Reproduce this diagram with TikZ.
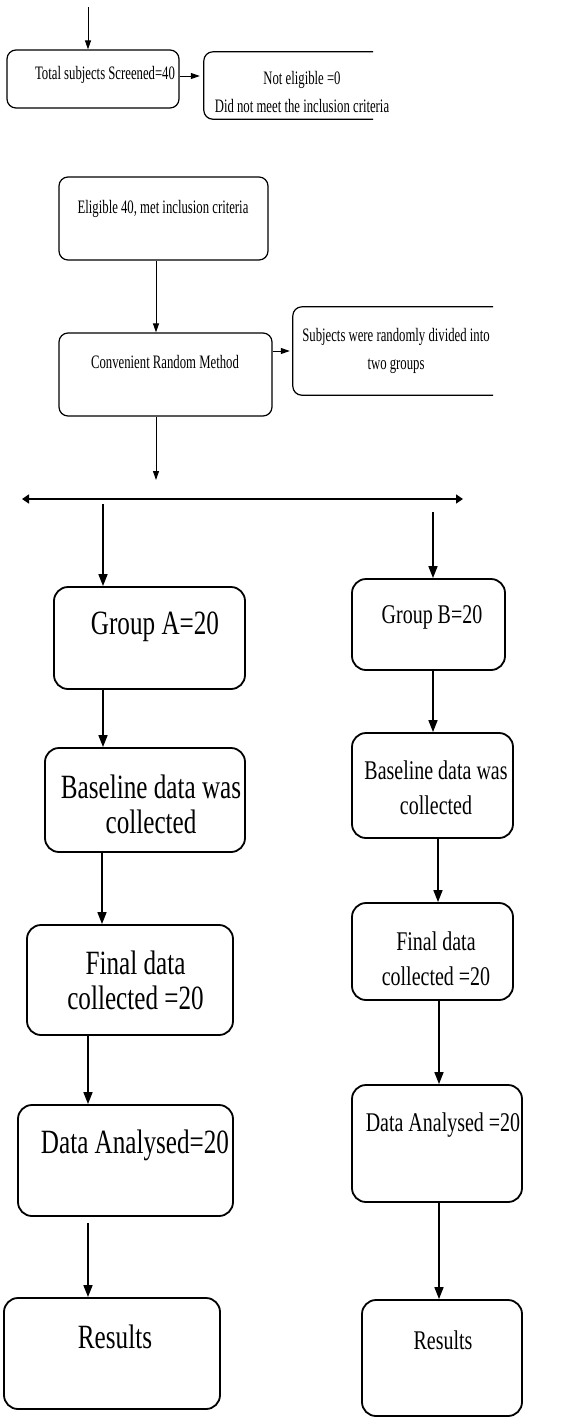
\documentclass[tikz,border=0pt]{standalone}
\usepackage{fontspec}
\newfontfamily\smallserif[FakeStretch=0.67]{Liberation Serif}
\newfontfamily\bigserif[FakeStretch=0.74]{Liberation Serif}
\usetikzlibrary{arrows.meta}
\tikzstyle{thinbox}=[draw, line width=1.2pt, rounded corners=9pt, inner sep=0pt]
\tikzstyle{thickbox}=[draw, line width=1.8pt, rounded corners=14pt, inner sep=0pt]
\tikzstyle{openbox}=[inner sep=0pt]
\tikzstyle{openline}=[line width=1.2pt, rounded corners=9pt]
\tikzstyle{thinarr}=[line width=1pt, -{Triangle[length=9pt,width=6pt]}]
\tikzstyle{thickarr}=[line width=1.6pt, -{Triangle[length=12pt,width=9pt]}]
\tikzstyle{bothway}=[line width=1.6pt, {Triangle[length=7pt,width=9pt]}-{Triangle[length=7pt,width=9pt]}]
\tikzstyle{smalltxt}=[font=\smallserif\fontsize{19}{28}\selectfont, align=center, inner sep=0pt]
\tikzstyle{atxt}=[font=\bigserif\fontsize{34}{35}\selectfont, align=center, inner sep=0pt]
\tikzstyle{btxt}=[font=\bigserif\fontsize{27}{35}\selectfont, align=center, inner sep=0pt]
\begin{document}
\begin{tikzpicture}[x=1pt, y=1pt]
\useasboundingbox (0,0) rectangle (574,-1417);
\node[thinbox, minimum width=172pt, minimum height=58pt] (screen) at (93,-79) {};
\node[smalltxt] (screen-t) at (105,-75) {Total subjects Screened=40};
\node[openbox, minimum width=169pt, minimum height=67pt] (notelig) at (288.5,-85.5) {};
\draw[openline] (notelig.north east) -- (notelig.north west) -- (notelig.south west) -- (notelig.south east);
\node[smalltxt] (notelig-t) at (302,-92) {Not eligible =0\\Did not meet the inclusion criteria};
\node[thinbox, minimum width=209pt, minimum height=83pt] (elig) at (163.5,-218.5) {};
\node[smalltxt] (elig-t) at (163,-209) {Eligible 40, met inclusion criteria};
\node[thinbox, minimum width=213pt, minimum height=83pt] (conv) at (165.5,-374.5) {};
\node[smalltxt] (conv-t) at (165,-362) {Convenient Random Method};
\node[openbox, minimum width=200pt, minimum height=88pt] (split) at (393,-351) {};
\draw[openline] (split.north east) -- (split.north west) -- (split.south west) -- (split.south east);
\node[smalltxt] (split-t) at (396,-351) {Subjects were randomly divided into\\two groups};
\node[thickbox, minimum width=191pt, minimum height=102pt] (grpA) at (149.5,-638) {};
\node[atxt] (grpA-t) at (155,-627) {Group A=20};
\node[thickbox, minimum width=153pt, minimum height=91pt] (grpB) at (428.5,-624.5) {};
\node[btxt] (grpB-t) at (432,-617) {Group B=20};
\node[thickbox, minimum width=200pt, minimum height=104pt] (baseA) at (145,-800) {};
\node[atxt] (baseA-t) at (151,-804.5) {Baseline data was\\collected};
\node[thickbox, minimum width=161pt, minimum height=105pt] (baseB) at (432.5,-785.5) {};
\node[btxt] (baseB-t) at (436,-787.5) {Baseline data was\\collected};
\node[thickbox, minimum width=206pt, minimum height=110pt] (finA) at (130,-980) {};
\node[atxt] (finA-t) at (135.5,-980.5) {Final data\\collected =20};
\node[thickbox, minimum width=161pt, minimum height=97pt] (finB) at (432.5,-951.5) {};
\node[btxt] (finB-t) at (436,-959) {Final data\\collected =20};
\node[thickbox, minimum width=215pt, minimum height=111pt] (anaA) at (125.5,-1160.5) {};
\node[atxt] (anaA-t) at (135,-1145) {Data Analysed=20};
\node[thickbox, minimum width=170pt, minimum height=117pt] (anaB) at (437,-1143.5) {};
\node[btxt] (anaB-t) at (443,-1125) {Data Analysed =20};
\node[thickbox, minimum width=216pt, minimum height=111pt] (resA) at (112,-1353.5) {};
\node[atxt] (resA-t) at (115,-1337) {Results};
\node[thickbox, minimum width=160pt, minimum height=116pt] (resB) at (442,-1358) {};
\node[btxt] (resB-t) at (443,-1340) {Results};
\coordinate (entry) at (88,-7);
\coordinate (fork) at (156,-480);
\coordinate (barL) at (22,-499);
\coordinate (barR) at (463,-499);
\coordinate (legA) at (103,-504);
\coordinate (legB) at (433,-512);
\draw[thinarr] (entry) -- (entry |- screen.north);
\draw[thinarr, shorten >=4pt] (screen.east |- 0,-76) -- (notelig.west |- 0,-76);
\draw[thinarr] (156,0 |- elig.south) -- (156,0 |- conv.north);
\draw[thinarr, shorten >=3pt] (conv.east |- 0,-351) -- (split.west |- 0,-351);
\draw[thinarr] (156,0 |- conv.south) -- (fork);
\draw[bothway] (barL) -- (barR);
\draw[thickarr] (legA) -- (legA |- grpA.north);
\draw[thickarr] (legB) -- (legB |- grpB.north);
\draw[thickarr] (103,0 |- grpA.south) -- (103,0 |- baseA.north);
\draw[thickarr] (102,0 |- baseA.south) -- (102,0 |- finA.north);
\draw[thickarr] (88,0 |- finA.south) -- (88,0 |- anaA.north);
\draw[thickarr, shorten <=6pt] (88,0 |- anaA.south) -- (88,0 |- resA.north);
\draw[thickarr] (433,0 |- grpB.south) -- (433,0 |- baseB.north);
\draw[thickarr] (438,0 |- baseB.south) -- (438,0 |- finB.north);
\draw[thickarr] (439,0 |- finB.south) -- (439,0 |- anaB.north);
\draw[thickarr] (439,0 |- anaB.south) -- (439,0 |- resB.north);
\end{tikzpicture}
\end{document}
